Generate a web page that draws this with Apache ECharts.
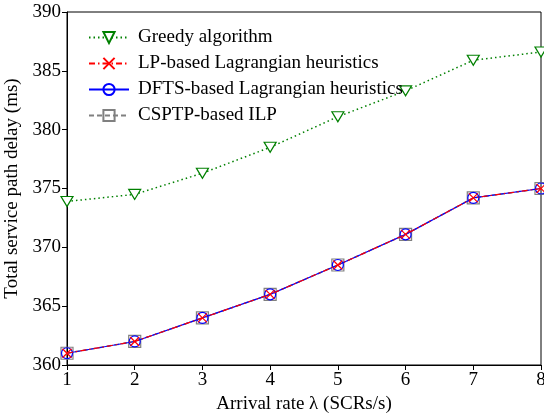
<!DOCTYPE html>
<html><head><meta charset="utf-8">
<script src="https://cdn.jsdelivr.net/npm/echarts@6/dist/echarts.min.js"></script>
<style>html,body{margin:0;padding:0;background:#fff}#c{width:544px;height:420px}</style>
</head><body><div id="c"></div>
<script>
var xValues = [1, 2, 3, 4, 5, 6, 7, 8];
var greedy = [373.9, 374.5, 376.3, 378.5, 381.1, 383.3, 385.9, 386.6];
var lpLagrangian = [361.0, 362.0, 364.0, 366.0, 368.5, 371.1, 374.2, 375.0];
var dftsLagrangian = [361.0, 362.0, 364.0, 366.0, 368.5, 371.1, 374.2, 375.0];
var csptpILP = [361.0, 362.0, 364.0, 366.0, 368.5, 371.1, 374.2, 375.0];
var seriesNames = ['Greedy algorithm', 'LP-based Lagrangian heuristics', 'DFTS-based Lagrangian heuristics', 'CSPTP-based ILP'];

function pairs(arr){ return xValues.map(function(x,i){ return [x, arr[i]]; }); }
var FONT = 'Liberation Serif';
var FS = 19;
var legendText = { fontFamily: FONT, fontSize: FS, color: '#000', fontWeight: 'normal', padding: [0, 0, 0, 4] };
var chart = echarts.init(document.getElementById('c'), null, {renderer:'canvas'});
chart.setOption({
  animation: false,
  backgroundColor: '#fff',
  textStyle: { fontFamily: FONT },
  grid: { left: 67, right: 3, top: 12, bottom: 55, show: true, borderColor: '#000', borderWidth: 1,
          containLabel: false, outerBoundsMode: 'none' },
  legend: {
    orient: 'vertical', left: 83, top: 23, itemWidth: 40, itemHeight: 14, itemGap: 7,
    textStyle: legendText,
    data: seriesNames.map(function(n){ return { name: n, textStyle: legendText }; })
  },
  xAxis: {
    type: 'value', min: 1, max: 8, interval: 1,
    name: 'Arrival rate λ (SCRs/s)', nameLocation: 'middle', nameGap: 29,
    nameTextStyle: { fontFamily: FONT, fontSize: FS, color: '#000' },
    axisLine: { show: true, lineStyle: { color: '#000', width: 1 } },
    axisTick: { show: true, length: 5, lineStyle: { color: '#000' } },
    axisLabel: { fontFamily: FONT, fontSize: FS, color: '#000', margin: 6 },
    splitLine: { show: false }
  },
  yAxis: {
    type: 'value', min: 360, max: 390, interval: 5,
    name: 'Total service path delay (ms)', nameLocation: 'middle', nameGap: 30,
    nameTextStyle: { fontFamily: FONT, fontSize: FS, color: '#000' },
    axisLine: { show: true, lineStyle: { color: '#000', width: 1 } },
    axisTick: { show: true, length: 5, lineStyle: { color: '#000' } },
    axisLabel: { fontFamily: FONT, fontSize: FS, color: '#000', margin: 6 },
    splitLine: { show: false }
  },
  series: [
    { name: seriesNames[0], type: 'line', data: pairs(greedy), z: 2,
      symbol: 'triangle', symbolRotate: 180, symbolSize: [12, 10],
      lineStyle: { color: '#008000', width: 1.5, type: [1.5, 3] },
      itemStyle: { color: '#fff', borderColor: '#008000', borderWidth: 1.2 } },
    { name: seriesNames[1], type: 'line', data: pairs(lpLagrangian), z: 5,
      symbol: 'path://M0,0L10,10M10,0L0,10', symbolSize: 9,
      lineStyle: { color: '#ff0000', width: 1.2, type: [6, 3, 1.5, 3] },
      itemStyle: { color: 'rgba(0,0,0,0)', borderColor: '#ff0000', borderWidth: 1.2 } },
    { name: seriesNames[2], type: 'line', data: pairs(dftsLagrangian), z: 4,
      symbol: 'circle', symbolSize: 11,
      lineStyle: { color: '#0000ff', width: 1.2, type: 'solid' },
      itemStyle: { color: 'rgba(0,0,0,0)', borderColor: '#0000ff', borderWidth: 1.2 } },
    { name: seriesNames[3], type: 'line', data: pairs(csptpILP), z: 3,
      symbol: 'rect', symbolSize: 12,
      lineStyle: { color: '#808080', width: 1.5, type: [5, 3] },
      itemStyle: { color: 'rgba(0,0,0,0)', borderColor: '#808080', borderWidth: 1.2 } }
  ]
});
</script></body></html>
